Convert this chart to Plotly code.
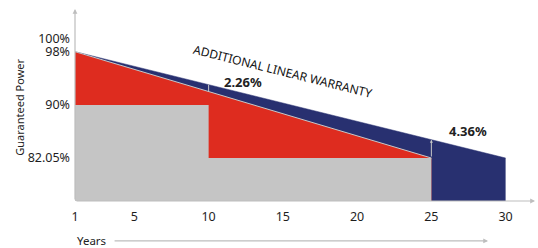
import numpy as np
import plotly.graph_objects as go

# ---- data ----
years_linear = [1, 30]             # additional linear warranty (blue)
power_linear = [98, 82.05]
years_std_linear = [1, 25]         # standard linear warranty (red)
power_std_linear = [98, 82.05]
years_step = [1, 10, 25]           # step warranty (gray)
power_step = [90, 82.05, 82.05]
x_ticks = [1, 5, 10, 15, 20, 25, 30]
y_ticks = [100, 98, 90, 82.05]
y_tick_labels = ["100%", "98%", "90%", "82.05%"]
gain_labels = ["2.26%", "4.36%"]

BLUE = "#283070"
RED = "#de2c1f"
GRAY = "#c5c5c5"
EDGE = "#c8c8c8"
AX = "#bdbdbd"
FONT = "Noto Sans"

X_MIN, X_MAX = 1, 31.98
Y_MIN, Y_MAX = 75.6, 104.4

fig = go.Figure()
fig.add_trace(go.Scatter(x=years_linear, y=power_linear, mode="lines", fill="tozeroy",
                         fillcolor=BLUE, line=dict(color=BLUE, width=0.5), hoverinfo="skip"))
fig.add_trace(go.Scatter(x=years_std_linear, y=power_std_linear, mode="lines", fill="tozeroy",
                         fillcolor=RED, line=dict(color=EDGE, width=1), hoverinfo="skip"))
fig.add_trace(go.Scatter(x=years_step, y=power_step, mode="lines", line_shape="hv", fill="tozeroy",
                         fillcolor=GRAY, line=dict(color=GRAY, width=0), hoverinfo="skip"))

def blue_at(x):
    return float(np.interp(x, years_linear, power_linear))

def red_at(x):
    return float(np.interp(x, years_std_linear, power_std_linear))

# vertical connectors
fig.add_shape(type="line", x0=10, x1=10, y0=red_at(10), y1=blue_at(10),
              line=dict(color=EDGE, width=1))
fig.add_annotation(x=25, y=blue_at(25), ax=25, ay=red_at(25), axref="x", ayref="y",
                   xref="x", yref="y", text="", showarrow=True, arrowhead=2,
                   arrowsize=0.6, arrowwidth=1, arrowcolor=EDGE)

# axis arrows
fig.add_annotation(x=X_MAX, y=Y_MIN, ax=X_MIN, ay=Y_MIN, axref="x", ayref="y",
                   xref="x", yref="y", text="", showarrow=True, arrowhead=2,
                   arrowsize=0.8, arrowwidth=1.2, arrowcolor=AX)
fig.add_annotation(x=X_MIN, y=Y_MAX, ax=X_MIN, ay=Y_MIN, axref="x", ayref="y",
                   xref="x", yref="y", text="", showarrow=True, arrowhead=2,
                   arrowsize=0.8, arrowwidth=1.2, arrowcolor=AX)

# years arrow
fig.add_annotation(x=28.82, y=-0.208, xref="x", yref="paper", ax=-375, ay=0,
                   text="", showarrow=True, arrowhead=2, arrowsize=0.8,
                   arrowwidth=1.2, arrowcolor=AX)
fig.add_annotation(x=X_MIN, y=-0.208, xref="x", yref="paper", text="Years",
                   showarrow=False, xanchor="left", yanchor="middle",
                   font=dict(family=FONT, size=11.5, color="#222"))

# y title
fig.add_annotation(x=-0.12, y=0.49, xref="paper", yref="paper", text="Guaranteed Power",
                   textangle=-90, showarrow=False, xanchor="center", yanchor="middle",
                   font=dict(family=FONT, size=11, color="#222"))

# labels
fig.add_annotation(x=15.04, y=95.09, xref="x", yref="y", text="ADDITIONAL LINEAR WARRANTY",
                   textangle=14, showarrow=False, font=dict(family=FONT, size=12, color="#111"))
fig.add_annotation(x=12.34, y=93.43, xref="x", yref="y", text="<b>%s</b>" % gain_labels[0],
                   showarrow=False, font=dict(family=FONT, size=13, color="#222"))
fig.add_annotation(x=27.47, y=86.04, xref="x", yref="y", text="<b>%s</b>" % gain_labels[1],
                   showarrow=False, font=dict(family=FONT, size=13, color="#222"))

fig.update_xaxes(range=[X_MIN, X_MAX], tickvals=x_ticks, ticktext=[str(v) for v in x_ticks],
                 showgrid=False, zeroline=False, showline=False, ticks="", automargin=False,
                 ticklabelstandoff=6, tickfont=dict(family=FONT, size=12.5, color="#1e1e1e"))
fig.update_yaxes(range=[Y_MIN, Y_MAX], tickvals=y_ticks, ticktext=y_tick_labels,
                 showgrid=False, zeroline=False, showline=False, ticks="", automargin=False,
                 ticklabelstandoff=4, tickfont=dict(family=FONT, size=12.5, color="#1e1e1e"))

fig.update_layout(width=538, height=248, margin=dict(l=75, r=3, t=9, b=47),
                  paper_bgcolor="white", plot_bgcolor="white", showlegend=False)

fig.write_html("out.html", config={"displayModeBar": False},
               post_script="document.body.style.margin='0';")
